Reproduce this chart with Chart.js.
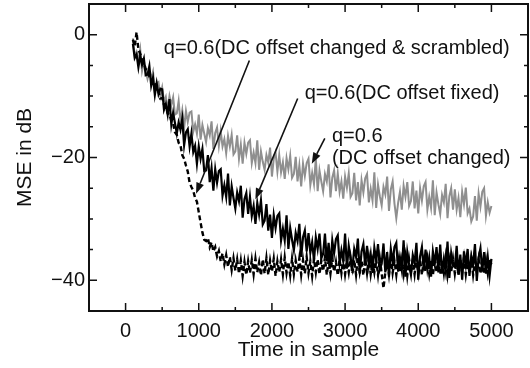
<!DOCTYPE html>
<html>
<head>
<meta charset="utf-8">
<script src="https://cdn.jsdelivr.net/npm/chart.js@4.4.1/dist/chart.umd.min.js"></script>
<style>
  body { margin: 0; background: #fff; }
  canvas { display: block; }
</style>
</head>
<body>
<canvas id="mseChart" width="530" height="368"></canvas>
<script>
// sample index (x) shared by the three curves
const samples = [
  100, 125, 150, 175, 200, 225, 250, 275,
  300, 325, 350, 375, 400, 425, 450, 475,
  500, 525, 550, 575, 600, 625, 650, 675,
  700, 725, 750, 775, 800, 825, 850, 875,
  900, 925, 950, 975, 1000, 1025, 1050, 1075,
  1100, 1125, 1150, 1175, 1200, 1225, 1250, 1275,
  1300, 1325, 1350, 1375, 1400, 1425, 1450, 1475,
  1500, 1525, 1550, 1575, 1600, 1625, 1650, 1675,
  1700, 1725, 1750, 1775, 1800, 1825, 1850, 1875,
  1900, 1925, 1950, 1975, 2000, 2025, 2050, 2075,
  2100, 2125, 2150, 2175, 2200, 2225, 2250, 2275,
  2300, 2325, 2350, 2375, 2400, 2425, 2450, 2475,
  2500, 2525, 2550, 2575, 2600, 2625, 2650, 2675,
  2700, 2725, 2750, 2775, 2800, 2825, 2850, 2875,
  2900, 2925, 2950, 2975, 3000, 3025, 3050, 3075,
  3100, 3125, 3150, 3175, 3200, 3225, 3250, 3275,
  3300, 3325, 3350, 3375, 3400, 3425, 3450, 3475,
  3500, 3525, 3550, 3575, 3600, 3625, 3650, 3675,
  3700, 3725, 3750, 3775, 3800, 3825, 3850, 3875,
  3900, 3925, 3950, 3975, 4000, 4025, 4050, 4075,
  4100, 4125, 4150, 4175, 4200, 4225, 4250, 4275,
  4300, 4325, 4350, 4375, 4400, 4425, 4450, 4475,
  4500, 4525, 4550, 4575, 4600, 4625, 4650, 4675,
  4700, 4725, 4750, 4775, 4800, 4825, 4850, 4875,
  4900, 4925, 4950, 4975, 5000
];

// q=0.6 (DC offset changed & scrambled) - dashed black
const mseScrambled = [
  -0.8, -1.9, 0.4, -2.4, -3.1, -4.0, -4.5, -5.6,
  -5.7, -6.8, -7.0, -8.1, -7.9, -9.0, -9.2, -10.4,
  -10.3, -11.4, -11.7, -12.8, -12.9, -14.1, -14.5, -15.9,
  -16.3, -17.6, -18.0, -19.6, -20.2, -21.3, -22.3, -24.1,
  -24.8, -25.4, -26.6, -27.2, -28.9, -30.6, -32.2, -33.4,
  -33.6, -33.1, -34.6, -33.8, -35.3, -34.6, -36.1, -35.2,
  -36.9, -35.6, -37.4, -35.9, -37.8, -36.2, -38.3, -36.4,
  -38.4, -36.6, -38.9, -36.8, -39.3, -37.0, -39.1, -36.9,
  -38.8, -36.7, -39.0, -36.5, -38.7, -37.1, -39.2, -36.6,
  -38.9, -36.4, -39.1, -36.8, -38.6, -36.5, -39.3, -36.9,
  -38.7, -36.6, -39.0, -36.3, -38.8, -37.0, -39.2, -36.5,
  -39.0, -36.8, -38.6, -36.4, -39.1, -36.7, -38.9, -36.2,
  -38.8, -36.9, -39.3, -36.5, -38.7, -36.6, -39.0, -36.8,
  -38.5, -36.3, -39.1, -36.7, -38.9, -36.4, -38.6, -37.0,
  -39.2, -36.6, -38.8, -36.5, -39.0, -36.9, -38.7, -36.4,
  -38.9, -36.7, -39.1, -36.3, -38.6, -36.8, -39.2, -36.5,
  -38.8, -36.4, -39.0, -36.9, -38.7, -36.6, -39.1, -36.5,
  -38.9, -41.3, -38.7, -36.6, -39.0, -36.4, -38.8, -36.9,
  -39.1, -36.5, -38.6, -36.7, -38.9, -36.3, -39.2, -36.6,
  -38.7, -36.8, -39.0, -36.4, -38.8, -36.6, -39.1, -36.9,
  -38.6, -36.5, -38.9, -36.7, -39.2, -36.4, -38.7, -36.8,
  -39.0, -36.6, -38.8, -36.3, -39.1, -36.7, -38.6, -36.5,
  -38.9, -36.8, -39.2, -36.6, -38.7, -36.4, -39.0, -36.7,
  -38.8, -36.5, -39.1, -36.9, -38.6, -36.6, -38.9, -36.4,
  -39.0, -36.7, -38.8, -36.6, -37.4
];

// q=0.6 (DC offset fixed) - solid black
const mseFixed = [
  -1.5, -3.8, -3.2, -5.3, -3.4, -4.9, -3.9, -6.6,
  -6.5, -5.1, -8.3, -7.0, -9.8, -7.9, -9.7, -8.8,
  -8.9, -12.2, -11.3, -13.0, -10.5, -14.6, -12.7, -14.4,
  -16.1, -14.3, -15.5, -13.7, -18.0, -15.9, -15.4, -18.2,
  -16.1, -19.1, -18.1, -21.0, -18.2, -20.2, -18.6, -22.2,
  -22.1, -19.6, -24.0, -21.7, -25.4, -21.9, -24.1, -22.2,
  -21.9, -26.2, -24.5, -26.4, -22.6, -27.8, -24.7, -26.6,
  -28.3, -25.7, -27.1, -24.6, -29.8, -26.8, -25.8, -29.2,
  -26.4, -29.5, -27.9, -30.8, -27.4, -29.3, -27.0, -30.9,
  -30.3, -27.6, -31.9, -29.3, -33.1, -29.4, -31.5, -29.5,
  -29.1, -33.5, -31.6, -33.5, -29.4, -34.9, -31.5, -33.4,
  -35.1, -32.3, -33.6, -30.8, -36.2, -33.0, -31.9, -35.3,
  -32.3, -35.5, -33.8, -36.8, -33.0, -34.9, -32.4, -36.4,
  -35.7, -32.4, -36.9, -33.9, -37.7, -33.5, -35.6, -33.3,
  -32.7, -37.2, -35.1, -36.9, -32.4, -38.1, -34.4, -36.4,
  -38.0, -34.9, -36.2, -33.2, -38.9, -35.3, -34.1, -37.6,
  -34.4, -37.6, -35.7, -38.8, -34.7, -36.7, -34.1, -38.2,
  -37.3, -34.0, -38.7, -35.4, -39.4, -34.9, -37.1, -34.6,
  -33.9, -38.6, -36.3, -38.3, -33.5, -39.4, -35.4, -37.5,
  -39.1, -35.9, -37.2, -33.9, -39.9, -36.1, -34.6, -38.4,
  -35.0, -38.2, -36.3, -39.4, -35.3, -37.3, -34.6, -38.7,
  -34.2, -38.9, -36.5, -38.5, -33.7, -39.6, -35.6, -37.6,
  -37.8, -34.4, -39.1, -35.8, -39.9, -35.3, -37.5, -34.9,
  -39.3, -36.1, -37.4, -34.1, -40.1, -36.3, -34.8, -38.6,
  -35.4, -38.9, -36.2, -39.3, -36.5
];

// q=0.6 (DC offset changed) - grey
const mseChanged = [
  -0.6, -3.5, -2.8, -4.3, -2.4, -5.9, -4.4, -5.9,
  -7.2, -6.0, -7.1, -6.0, -9.3, -7.9, -7.7, -10.0,
  -8.6, -10.9, -10.1, -12.2, -10.0, -11.5, -10.2, -13.0,
  -12.8, -10.8, -14.2, -12.3, -15.2, -12.4, -14.2, -12.7,
  -12.5, -15.8, -14.6, -16.1, -13.0, -17.1, -14.7, -16.1,
  -17.5, -15.2, -16.4, -14.1, -18.6, -16.0, -15.1, -18.1,
  -15.7, -18.2, -17.0, -19.3, -16.5, -18.2, -16.3, -19.5,
  -19.0, -16.4, -20.2, -17.9, -21.0, -17.6, -19.4, -17.6,
  -17.2, -20.9, -19.2, -20.9, -17.2, -22.0, -19.0, -20.7,
  -22.0, -19.6, -20.8, -18.4, -23.1, -20.2, -19.2, -22.3,
  -19.6, -22.4, -20.8, -23.5, -20.1, -21.9, -19.7, -23.3,
  -22.7, -19.9, -23.9, -21.3, -24.7, -21.0, -23.0, -20.9,
  -20.2, -24.5, -22.5, -24.3, -20.1, -25.5, -22.1, -23.9,
  -25.5, -22.7, -23.9, -21.1, -26.5, -23.3, -22.1, -25.5,
  -22.6, -25.6, -23.9, -26.7, -23.1, -24.9, -22.6, -26.4,
  -25.8, -22.5, -27.0, -24.0, -27.8, -23.7, -25.7, -23.4,
  -22.7, -27.3, -25.1, -27.0, -22.4, -28.2, -24.4, -26.3,
  -27.8, -24.8, -26.0, -23.1, -28.7, -25.2, -23.9, -27.5,
  -29.9, -27.4, -25.6, -28.5, -24.6, -26.4, -24.0, -27.9,
  -27.1, -23.9, -28.3, -25.4, -29.1, -25.0, -27.0, -24.7,
  -24.0, -28.5, -26.4, -28.2, -23.7, -29.4, -25.7, -27.6,
  -29.2, -26.1, -27.3, -24.3, -29.9, -26.3, -25.0, -28.5,
  -25.2, -28.5, -26.6, -29.7, -25.6, -27.6, -24.9, -29.1,
  -28.3, -30.4, -29.6, -26.3, -30.3, -25.9, -28.0, -25.6,
  -25.0, -29.5, -27.3, -29.0, -27.9
];

const xTicks = [0, 1000, 2000, 3000, 4000, 5000];
const xTickLabels = ['0', '1000', '2000', '3000', '4000', '5000'];
const xMinorTicks = [500, 1500, 2500, 3500, 4500];
const yTicks = [-40, -20, 0];
const yTickLabels = ['\u221240', '\u221220', '0'];
const yMinorTicks = [-35, -30, -25, -15, -10, -5];

const FONT = '"Liberation Sans", Arial, Helvetica, sans-serif';
const INK = '#111';

function toPoints(ys) {
  return samples.map((s, i) => ({ x: s, y: ys[i] }));
}

// annotation text + arrows, anchored in data coordinates
const notes = [
  { text: 'q=0.6(DC offset changed & scrambled)', x: 523, y: -3.1 },
  { text: 'q=0.6(DC offset fixed)', x: 2448, y: -10.5 },
  { text: 'q=0.6', x: 2820, y: -17.5 },
  { text: '(DC offset changed)', x: 2820, y: -21.0 }
];
const arrows = [
  { from: [1692, -4.2], to: [963, -25.9] },
  { from: [2352, -10.4], to: [1774, -26.8] },
  { from: [2723, -16.9], to: [2545, -21.0] }
];

const framePlugin = {
  id: 'frame',
  afterDraw(chart) {
    const { ctx, chartArea: a, scales: { x, y } } = chart;
    ctx.save();
    ctx.strokeStyle = INK;
    ctx.lineWidth = 2;
    ctx.strokeRect(a.left, a.top, a.right - a.left, a.bottom - a.top);

    ctx.lineWidth = 1.5;
    ctx.beginPath();
    const xt = (v, len) => {
      const px = x.getPixelForValue(v);
      ctx.moveTo(px, a.bottom); ctx.lineTo(px, a.bottom - len);
      ctx.moveTo(px, a.top); ctx.lineTo(px, a.top + len);
    };
    const yt = (v, len) => {
      const py = y.getPixelForValue(v);
      ctx.moveTo(a.left, py); ctx.lineTo(a.left + len, py);
      ctx.moveTo(a.right, py); ctx.lineTo(a.right - len, py);
    };
    xTicks.forEach(v => xt(v, 8));
    xMinorTicks.forEach(v => xt(v, 4));
    yTicks.forEach(v => yt(v, 8));
    yMinorTicks.forEach(v => yt(v, 4));
    ctx.stroke();

    // arrows
    ctx.fillStyle = INK;
    ctx.lineWidth = 1.6;
    arrows.forEach(ar => {
      const x0 = x.getPixelForValue(ar.from[0]), y0 = y.getPixelForValue(ar.from[1]);
      const x1 = x.getPixelForValue(ar.to[0]), y1 = y.getPixelForValue(ar.to[1]);
      const ang = Math.atan2(y1 - y0, x1 - x0);
      const hl = 11, hw = 4;
      const bx = x1 - hl * Math.cos(ang), by = y1 - hl * Math.sin(ang);
      ctx.beginPath();
      ctx.moveTo(x0, y0); ctx.lineTo(bx, by);
      ctx.stroke();
      ctx.beginPath();
      ctx.moveTo(x1, y1);
      ctx.lineTo(bx + hw * Math.sin(ang), by - hw * Math.cos(ang));
      ctx.lineTo(bx - hw * Math.sin(ang), by + hw * Math.cos(ang));
      ctx.closePath();
      ctx.fill();
    });

    // labels
    ctx.font = '20px ' + FONT;
    ctx.textAlign = 'left';
    ctx.textBaseline = 'alphabetic';
    notes.forEach(n => {
      ctx.fillText(n.text, x.getPixelForValue(n.x), y.getPixelForValue(n.y));
    });
    ctx.restore();
  }
};

// no label overhang padding: plot frame is pinned to the canvas edges
const noPad = s => { s.paddingTop = 0; s.paddingBottom = 0; s.paddingLeft = 0; s.paddingRight = 0; };

new Chart(document.getElementById('mseChart'), {
  type: 'line',
  data: {
    datasets: [
      {
        label: 'q=0.6(DC offset changed & scrambled)',
        data: toPoints(mseScrambled),
        borderColor: '#000',
        borderWidth: 2.4,
        borderDash: [5, 3]
      },
      {
        label: 'q=0.6(DC offset fixed)',
        data: toPoints(mseFixed),
        borderColor: '#000',
        borderWidth: 2.2
      },
      {
        label: 'q=0.6(DC offset changed)',
        data: toPoints(mseChanged),
        borderColor: '#8f8f8f',
        borderWidth: 2
      }
    ]
  },
  options: {
    responsive: false,
    animation: false,
    layout: { autoPadding: false, padding: { top: 4, right: 2, left: 0, bottom: 0 } },
    elements: { point: { radius: 0 }, line: { tension: 0 } },
    plugins: { legend: { display: false }, tooltip: { enabled: false } },
    scales: {
      x: {
        type: 'linear',
        min: -500,
        max: 5500,
        grid: { display: false, drawTicks: false },
        border: { display: false },
        afterBuildTicks: s => { s.ticks = xTicks.map(v => ({ value: v })); },
        afterFit: s => { s.height = 57; noPad(s); },
        ticks: {
          autoSkip: false, maxRotation: 0, padding: 8, color: INK,
          font: { family: FONT, size: 20 },
          callback: (v, i) => xTickLabels[i]
        },
        title: {
          display: true, text: 'Time in sample', color: INK,
          font: { family: FONT, size: 21 },
          padding: { top: 0, bottom: 5 }
        }
      },
      y: {
        min: -45,
        max: 5,
        grid: { display: false, drawTicks: false },
        border: { display: false },
        afterBuildTicks: s => { s.ticks = yTicks.map(v => ({ value: v })); },
        afterFit: s => { s.width = 89; noPad(s); },
        ticks: {
          autoSkip: false, padding: 4, color: INK,
          font: { family: FONT, size: 20 },
          callback: (v, i) => yTickLabels[i]
        },
        title: {
          display: true, text: 'MSE in dB', color: INK,
          font: { family: FONT, size: 21 },
          padding: { top: 13, bottom: 0 }
        }
      }
    }
  },
  plugins: [framePlugin]
});
</script>
</body>
</html>
